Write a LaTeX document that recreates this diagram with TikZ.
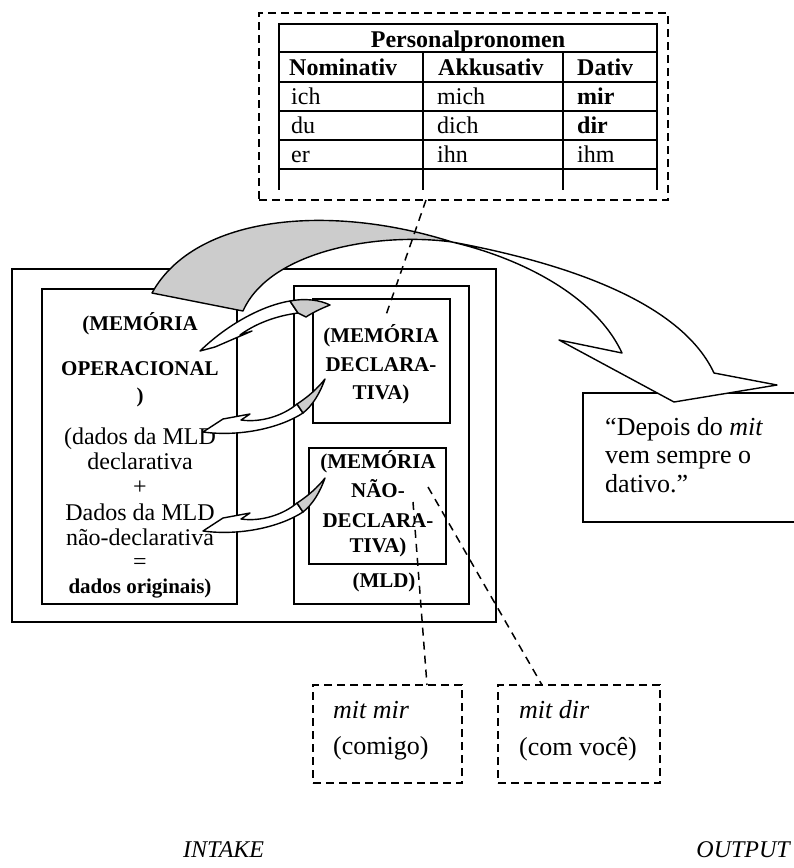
\documentclass[tikz,border=0pt]{standalone}
\usepackage{fontspec}
\setmainfont{Liberation Serif}
\definecolor{ribbon}{RGB}{204,204,204}
\begin{document}
\begin{tikzpicture}[x=1pt,y=-1pt,
  boxline/.style={draw, line width=2pt, inner sep=0pt, outer sep=0pt, anchor=north west},
  dashbox/.style={boxline, line width=1.6pt, dash pattern=on 8pt off 5pt},
  tabline/.style={line width=1.8pt, line cap=rect},
  linkline/.style={line width=1.5pt, dash pattern=on 8pt off 6pt},
  shell/.style={draw, line width=1.4pt, line join=round},
  cellt/.style={anchor=base west, inner sep=0pt, font=\fontsize{24}{28}\selectfont},
  cellb/.style={anchor=base west, inner sep=0pt, font=\fontsize{24}{28}\selectfont\bfseries},
  memo/.style={anchor=base, inner sep=0pt, font=\fontsize{21}{24}\selectfont\bfseries},
  plainline/.style={anchor=base, inner sep=0pt, font=\fontsize{24}{26}\selectfont},
  bigline/.style={anchor=base west, inner sep=0pt, font=\fontsize{26}{29}\selectfont},
  stage/.style={anchor=base west, inner sep=0pt, font=\fontsize{24}{28}\selectfont\itshape}
]
\useasboundingbox (0,0) rectangle (794,868);

% ---------- pronoun table in its dashed frame ----------
\node[dashbox, minimum width=409pt, minimum height=187pt] (tablebox) at (259,13) {};
\draw[tabline] (279,24) -- (657,24) (279,52) -- (657,52) (279,82) -- (657,82)
  (279,111) -- (657,111) (279,140) -- (657,140) (279,169) -- (657,169);
\draw[tabline] (279,24) -- (279,189) (657,24) -- (657,189)
  (423,52) -- (423,189) (563,52) -- (563,189);
\node[cellb, anchor=base] (title) at (468,47) {Personalpronomen};
\node[cellb] (nom) at (289,75) {Nominativ};
\node[cellb] (akk) at (438,75) {Akkusativ};
\node[cellb] (dat) at (577,75) {Dativ};
\node[cellt] (r1a) at (291,104) {ich};
\node[cellt] (r1b) at (437,104) {mich};
\node[cellb] (r1c) at (577,104) {mir};
\node[cellt] (r2a) at (291,133) {du};
\node[cellt] (r2b) at (437,133) {dich};
\node[cellb] (r2c) at (577,133) {dir};
\node[cellt] (r3a) at (291,162) {er};
\node[cellt] (r3b) at (437,162) {ihn};
\node[cellt] (r3c) at (577,162) {ihm};

% ---------- memory boxes ----------
\node[boxline, minimum width=484pt, minimum height=353pt] (outer) at (12,269) {};
\node[boxline, minimum width=195pt, minimum height=315pt] (opbox) at (42,289) {};
\node[boxline, minimum width=175pt, minimum height=318pt] (mld) at (294,286) {};
\node[boxline, minimum width=137pt, minimum height=124pt] (decl) at (313,299) {};
\node[boxline, minimum width=137pt, minimum height=116pt] (nondecl) at (309,448) {};

\node[memo] (op1) at (140,330) {(MEMÓRIA};
\node[memo] (op2) at (140,375) {OPERACIONAL};
\node[memo] (op3) at (140,402) {)};
\node[plainline] (op4) at (140,444) {(dados da MLD};
\node[plainline] (op5) at (140,469) {declarativa};
\node[plainline] (op6) at (140,494) {+};
\node[plainline] (op7) at (140,520) {Dados da MLD};
\node[plainline] (op8) at (140,545) {não-declarativa};
\node[plainline] (op9) at (140,569) {=};
\node[memo] (op10) at (140,593) {dados originais)};

\node[memo] (de1) at (381,342) {(MEMÓRIA};
\node[memo] (de2) at (381,371) {DECLARA-};
\node[memo] (de3) at (381,399) {TIVA)};
\node[memo] (nd1) at (378,468) {(MEMÓRIA};
\node[memo] (nd2) at (378,497) {NÃO-};
\node[memo] (nd3) at (378,527) {DECLARA-};
\node[memo] (nd4) at (378,552) {TIVA)};
\node[memo] (mldlabel) at (384,587) {(MLD)};

% ---------- output statement ----------
\node[boxline, minimum width=217pt, minimum height=129pt] (quote) at (583,393) {};
\node[bigline] (q1) at (605,435) {“Depois do \textit{mit}};
\node[bigline] (q2) at (605,463) {vem sempre o};
\node[bigline] (q3) at (605,492) {dativo.”};

% ---------- large twisted arrow from working memory to output ----------
\filldraw[shell, fill=ribbon] (152,293) .. controls (195,215) and (330,203) .. (452,242)
  .. controls (380,232) and (270,250) .. (243,311) -- cycle;
\filldraw[shell, fill=white] (452,242) .. controls (560,262) and (680,300) .. (714,373)
  -- (777,385) -- (674,402) -- (559,340) -- (622,353)
  .. controls (595,295) and (520,258) .. (452,242) -- cycle;

% ---------- small curled arrows from long-term memory to working memory ----------
\filldraw[shell, fill=white] (200,351) -- (215,347) -- (252,331) -- (240,335)
  .. controls (255,324) and (275,316) .. (298,313) -- (290,301)
  .. controls (265,305) and (230,322) .. (200,351) -- cycle;
\filldraw[shell, fill=ribbon] (290,301) .. controls (305,298) and (320,300) .. (330,305)
  .. controls (320,309) and (312,313) .. (306,317) -- (298,313) -- cycle;

\foreach \dy in {0,99} {
  \begin{scope}[shift={(0,\dy)}]
    \filldraw[shell, fill=white] (203,432) -- (223,419) -- (250,414) -- (241,420)
      .. controls (262,423) and (284,415) .. (297,404) -- (303,413)
      .. controls (280,428) and (240,437) .. (203,432) -- cycle;
    \filldraw[shell, fill=ribbon] (297,404) .. controls (308,397) and (318,388) .. (325,379)
      .. controls (320,393) and (313,405) .. (303,413) -- cycle;
  \end{scope}
}

% ---------- examples ----------
\node[dashbox, minimum width=149pt, minimum height=98pt] (mitmir) at (313,685) {};
\node[dashbox, minimum width=162pt, minimum height=98pt] (mitdir) at (498,685) {};
\node[bigline] (ex1) at (333,718) {\textit{mit mir}};
\node[bigline] (ex2) at (333,754) {(comigo)};
\node[bigline] (ex3) at (519,718) {\textit{mit dir}};
\node[bigline] (ex4) at (519,755) {(com você)};

% ---------- dashed references ----------
\coordinate (tabfoot) at (426,200);
\coordinate (declin) at (386,315);
\coordinate (ndleft) at (413,502);
\coordinate (ndright) at (428,487);
\coordinate (mirtop) at (427,685);
\coordinate (dirtop) at (542,685);
\draw[linkline] (tabfoot) -- (declin);
\draw[linkline] (ndleft) -- (mirtop);
\draw[linkline] (ndright) -- (dirtop);

% ---------- stage labels ----------
\node[stage] (intake) at (183,857) {INTAKE};
\node[stage, anchor=base east] (output) at (790,857) {OUTPUT};
\end{tikzpicture}
\end{document}
